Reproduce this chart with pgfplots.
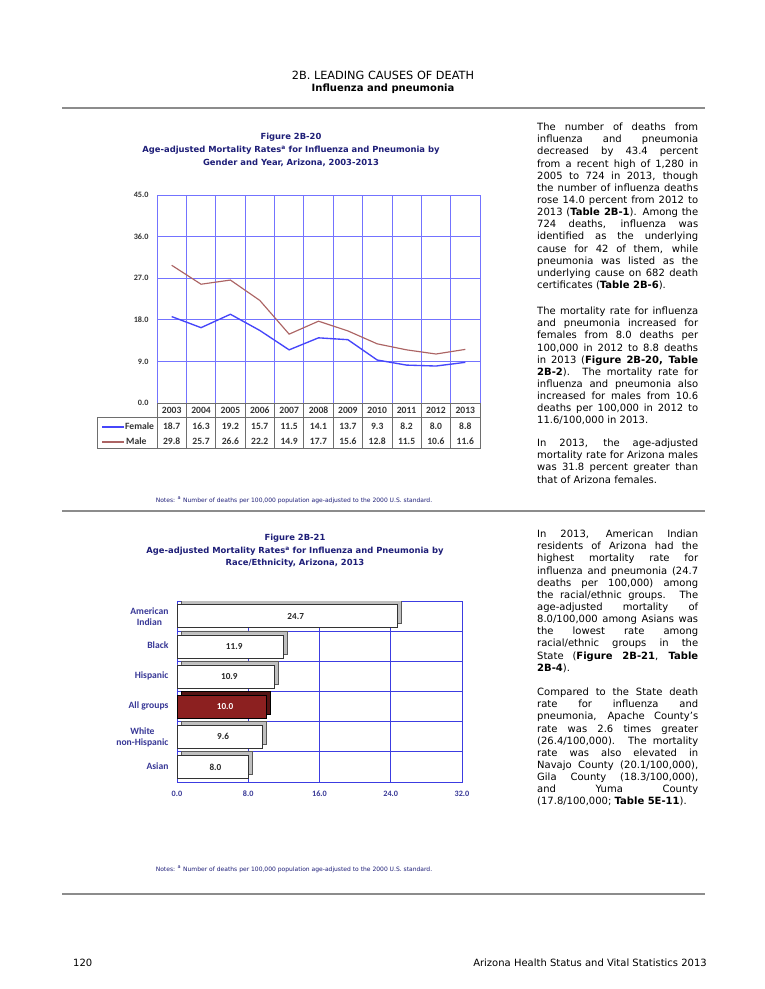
\documentclass[border=0pt]{standalone}
\usepackage{fontspec}
\setmainfont{DejaVu Sans}
\newfontfamily\carl{Carlito}
\usepackage{pgfplots}
\pgfplotsset{compat=1.18}
\definecolor{navy}{RGB}{30,30,120}
\definecolor{gridblue}{RGB}{115,115,255}
\definecolor{fem}{RGB}{70,70,250}
\definecolor{male}{RGB}{172,100,100}
\definecolor{barblue}{RGB}{60,60,225}
\definecolor{lblblue}{RGB}{55,55,150}
\definecolor{allred}{RGB}{140,32,32}
\definecolor{allredd}{RGB}{85,20,20}
\definecolor{rulegray}{RGB}{140,140,140}
\definecolor{tablegray}{RGB}{110,110,110}
\newcommand\bodyfont{\fontsize{10}{12}\selectfont}
\newcommand\para[4]{%
  \foreach \t [count=\i from 0] in {#2}{%
    \node[anchor=base west,inner sep=0pt,font=\bodyfont] at (537,{#1+12.15*\i}) {\makebox[161pt][s]{\t}};}%
  \node[anchor=base west,inner sep=0pt,font=\bodyfont] at (537,{#1+12.15*#4}) {#3};}
\begin{document}
\begin{tikzpicture}[x=1pt,y=-1pt]
\path[use as bounding box, fill=white] (0,0) rectangle (765,989);

% header
\node[anchor=base,inner sep=0pt,font=\fontsize{11.3}{13}\selectfont] at (383,79) {2B. LEADING CAUSES OF DEATH};
\node[anchor=base,inner sep=0pt,font=\bfseries\fontsize{10}{12}\selectfont] at (383,91) {Influenza and pneumonia};
\draw[rulegray,line width=1.3pt] (62,108) -- (705,108);
\draw[rulegray,line width=1.3pt] (62,511) -- (705,511);
\draw[rulegray,line width=1.3pt] (62,894) -- (705,894);

% figure titles
\begin{scope}[every node/.style={anchor=base,inner sep=0pt,text=navy,font=\bfseries\fontsize{8.4}{9}\selectfont}]
\node at (291,139) {Figure 2B-20};
\node at (291,152) {Age-adjusted Mortality Rates\textsuperscript{a} for Influenza and Pneumonia by};
\node at (291,165) {Gender and Year, Arizona, 2003-2013};
\node at (295,540) {Figure 2B-21};
\node at (295,553) {Age-adjusted Mortality Rates\textsuperscript{a} for Influenza and Pneumonia by};
\node at (295,565) {Race/Ethnicity, Arizona, 2013};
\end{scope}
\begin{scope}[every node/.style={anchor=base,inner sep=0pt,text=navy,font=\fontsize{6}{7}\selectfont}]
\node at (294,502) {Notes: \textsuperscript{a} Number of deaths per 100,000 population age-adjusted to the 2000 U.S. standard.};
\node at (294,871) {Notes: \textsuperscript{a} Number of deaths per 100,000 population age-adjusted to the 2000 U.S. standard.};
\end{scope}

% right column text
\para{130.6}{{The number of deaths from},{influenza and pneumonia},{decreased by 43.4 percent},{from a recent high of 1,280 in},{2005 to 724 in 2013, though},{the number of influenza deaths},{rose 14.0 percent from 2012 to},{2013 (\textbf{Table 2B-1}). Among the},{724 deaths, influenza was},{identified as the underlying},{cause for 42 of them, while},{pneumonia was listed as the},{underlying cause on 682 death}}{certificates (\textbf{Table 2B-6}).}{13}
\para{314.6}{{The mortality rate for influenza},{and pneumonia increased for},{females from 8.0 deaths per},{100,000 in 2012 to 8.8 deaths},{in 2013 (\textbf{Figure 2B-20, Table}},{\textbf{2B-2}). The mortality rate for},{influenza and pneumonia also},{increased for males from 10.6},{deaths per 100,000 in 2012 to}}{11.6/100,000 in 2013.}{9}
\para{446.6}{{In 2013, the age-adjusted},{mortality rate for Arizona males},{was 31.8 percent greater than}}{that of Arizona females.}{3}
\para{537.6}{{In 2013, American Indian},{residents of Arizona had the},{highest mortality rate for},{influenza and pneumonia (24.7},{deaths per 100,000) among},{the racial/ethnic groups. The},{age-adjusted mortality of},{8.0/100,000 among Asians was},{the lowest rate among},{racial/ethnic groups in the},{State (\textbf{Figure 2B-21}, \textbf{Table}}}{\textbf{2B-4}).}{11}
\para{695.6}{{Compared to the State death},{rate for influenza and},{pneumonia, Apache County’s},{rate was 2.6 times greater},{(26.4/100,000). The mortality},{rate was also elevated in},{Navajo County (20.1/100,000),},{Gila County (18.3/100,000),},{and Yuma County}}{(17.8/100,000; \textbf{Table 5E-11}).}{9}

% footer
\node[anchor=base west,inner sep=0pt,font=\fontsize{10}{12}\selectfont] at (73,966) {120};
\node[anchor=base east,inner sep=0pt,font=\fontsize{10}{12}\selectfont] at (707,966) {Arizona Health Status and Vital Statistics 2013};

% ---------- line chart ----------
\begin{axis}[
  at={(157pt,-403pt)}, anchor=south west, scale only axis,
  width=323pt, height=208pt,
  xmin=0, xmax=11, ymin=0, ymax=45,
  xtick={0,1,...,11}, xticklabels={},
  ytick={0,9,18,27,36,45},
  grid=major,
  major grid style={draw=gridblue,line width=0.8pt},
  axis line style={draw=gridblue,line width=0.8pt},
  major tick length=0pt,
  yticklabel style={font=\carl\bfseries\fontsize{8.2}{9}\selectfont,xshift=-5pt,text=black!80},
  /pgf/number format/fixed, /pgf/number format/fixed zerofill,
  /pgf/number format/precision=1, /pgf/number format/assume math mode=true,
]
\addplot[male,line width=1.15pt] coordinates {(0.5,29.8) (1.5,25.7) (2.5,26.6) (3.5,22.2) (4.5,14.9) (5.5,17.7) (6.5,15.6) (7.5,12.8) (8.5,11.5) (9.5,10.6) (10.5,11.6)};
\addplot[fem,line width=1.35pt] coordinates {(0.5,18.7) (1.5,16.3) (2.5,19.2) (3.5,15.7) (4.5,11.5) (5.5,14.1) (6.5,13.7) (7.5,9.3) (8.5,8.2) (9.5,8.0) (10.5,8.8)};
\end{axis}

% data table below line chart
\begin{scope}[tablegray,line width=0.7pt]
\foreach \i in {0,...,11} \draw ({157+29.3636*\i},403) -- ({157+29.3636*\i},448);
\draw (157,403) -- (480.6,403);
\draw (97,417) -- (480.6,417);
\draw (97,448) -- (480.6,448);
\draw (97,417) -- (97,448);
\end{scope}
\begin{scope}[every node/.style={inner sep=0pt,font=\carl\bfseries\fontsize{9.6}{10}\selectfont,text=black!80}]
\foreach \v [count=\i from 0] in {2003,2004,2005,2006,2007,2008,2009,2010,2011,2012,2013}
  \node at ({157+29.3636*(\i+0.5)},410.5) {\v};
\foreach \v [count=\i from 0] in {18.7,16.3,19.2,15.7,11.5,14.1,13.7,9.3,8.2,8.0,8.8}
  \node at ({157+29.3636*(\i+0.5)},426.5) {\v};
\foreach \v [count=\i from 0] in {29.8,25.7,26.6,22.2,14.9,17.7,15.6,12.8,11.5,10.6,11.6}
  \node at ({157+29.3636*(\i+0.5)},441.5) {\v};
\node[anchor=west] at (125,426.5) {Female};
\node[anchor=west] at (126,441.5) {Male};
\end{scope}
\draw[fem,line width=1.2pt] (102,427) -- (124,427);
\draw[male,line width=1.1pt] (102,442) -- (124,442);

% ---------- bar chart ----------
\begin{axis}[
  at={(177pt,-782pt)}, anchor=south west, scale only axis,
  width=285pt, height=181pt,
  xbar, bar width=23pt,
  xmin=0, xmax=32, ymin=-0.5, ymax=5.5, y dir=reverse,
  enlarge x limits=false, enlarge y limits=false,
  xtick={0,8,16,24,32}, xticklabels={0.0,8.0,16.0,24.0,32.0},
  typeset ticklabels with strut,
  ytick={0,...,5},
  yticklabels={{American\\Indian},Black,Hispanic,{All groups},{White\\non-Hispanic},Asian},
  minor ytick={0.5,1.5,2.5,3.5,4.5},
  xmajorgrids=true, yminorgrids=true,
  major grid style={draw=barblue,line width=0.7pt},
  minor grid style={draw=barblue,line width=0.7pt},
  axis line style={draw=barblue,line width=0.7pt},
  major tick length=0pt, minor tick length=0pt,
  yticklabel style={align=center,font=\carl\bfseries\fontsize{9.6}{11}\selectfont,text=lblblue,xshift=-5pt},
  xticklabel style={font=\carl\bfseries\fontsize{8.2}{9}\selectfont,text=lblblue,yshift=-5pt,anchor=north},
]
\addplot[fill=black!25,draw=black!65,line width=0.4pt,bar shift=0pt,xshift=4pt,yshift=4pt,forget plot]
  coordinates {(24.7,0) (11.9,1) (10.9,2) (9.6,4) (8.0,5)};
\addplot[fill=allredd,draw=black,line width=0.4pt,bar shift=0pt,xshift=4pt,yshift=4pt,forget plot]
  coordinates {(10.0,3)};
\addplot[fill=white,draw=black!80,line width=0.5pt,bar shift=0pt,
  point meta=x,
  visualization depends on={x \as \rx},
  nodes near coords={\pgfmathprintnumber[fixed,fixed zerofill,precision=1,assume math mode=true]{\pgfplotspointmeta}},
  every node near coord/.append style={anchor=center,xshift={-4.1pt*\rx},font=\carl\bfseries\fontsize{9.2}{10}\selectfont,text=black!85}]
  coordinates {(24.7,0) (11.9,1) (10.9,2) (9.6,4) (8.0,5)};
\addplot[fill=allred,draw=black,line width=0.5pt,bar shift=0pt,
  point meta=x,
  visualization depends on={x \as \rx},
  nodes near coords={\pgfmathprintnumber[fixed,fixed zerofill,precision=1,assume math mode=true]{\pgfplotspointmeta}},
  every node near coord/.append style={anchor=center,xshift={-4.1pt*\rx},font=\carl\bfseries\fontsize{9.2}{10}\selectfont,text=white}]
  coordinates {(10.0,3)};
\end{axis}
\end{tikzpicture}
\end{document}
